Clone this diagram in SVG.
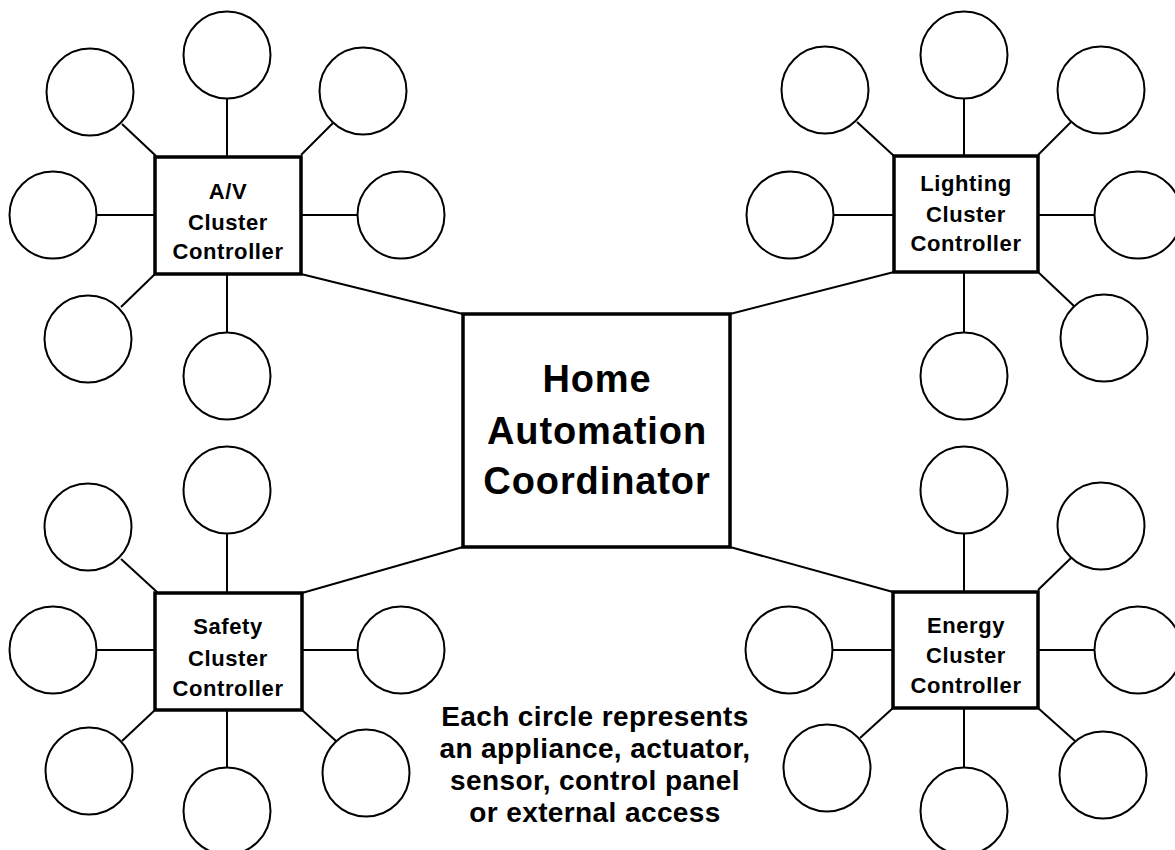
<svg xmlns="http://www.w3.org/2000/svg" width="1175" height="850" viewBox="0 0 1175 850">
<style>
.c{fill:#fff;stroke:#000;stroke-width:2}
.b{fill:#fff;stroke:#000;stroke-width:3.5}
.l{stroke:#000;stroke-width:2;fill:none}
.t{font-family:"Liberation Sans",Arial,Helvetica,sans-serif;font-weight:bold;text-anchor:middle;fill:#000}
.s{font-size:22px;letter-spacing:0.6px}
.m{font-size:38px;letter-spacing:0.9px}
.n{font-size:28px;letter-spacing:0.4px}
</style>
<rect width="1175" height="850" fill="#fff"/>
<g id="connectors" class="l">
<line x1="301" y1="274" x2="463" y2="314"/>
<line x1="894" y1="272" x2="730" y2="314"/>
<line x1="302" y1="593" x2="463" y2="547"/>
<line x1="893" y1="592" x2="730" y2="547"/>
<!-- A/V spokes -->
<line x1="227" y1="99" x2="227" y2="157"/>
<line x1="122" y1="124" x2="156" y2="156"/>
<line x1="334" y1="122" x2="301" y2="155"/>
<line x1="97" y1="215" x2="155" y2="215"/>
<line x1="301" y1="215" x2="357" y2="215"/>
<line x1="155" y1="274" x2="121" y2="307"/>
<line x1="227" y1="274" x2="227" y2="332"/>
<!-- Lighting spokes -->
<line x1="964" y1="99" x2="964" y2="156"/>
<line x1="857" y1="122" x2="894" y2="156"/>
<line x1="1071" y1="122" x2="1038" y2="155"/>
<line x1="834" y1="215" x2="894" y2="215"/>
<line x1="1038" y1="215" x2="1094" y2="215"/>
<line x1="1038" y1="272" x2="1074" y2="306"/>
<line x1="964" y1="272" x2="964" y2="332"/>
<!-- Safety spokes -->
<line x1="227" y1="533" x2="227" y2="593"/>
<line x1="121" y1="559" x2="157" y2="592"/>
<line x1="97" y1="650" x2="155" y2="650"/>
<line x1="302" y1="650" x2="357" y2="650"/>
<line x1="155" y1="710" x2="122" y2="741"/>
<line x1="227" y1="710" x2="227" y2="767"/>
<line x1="302" y1="710" x2="336" y2="741"/>
<!-- Energy spokes -->
<line x1="964" y1="534" x2="964" y2="592"/>
<line x1="1071" y1="558" x2="1038" y2="590"/>
<line x1="833" y1="650" x2="893" y2="650"/>
<line x1="1038" y1="650" x2="1094" y2="650"/>
<line x1="893" y1="708" x2="860" y2="738"/>
<line x1="964" y1="708" x2="964" y2="767"/>
<line x1="1038" y1="708" x2="1075" y2="741"/>
</g>
<g id="coordinator">
<rect class="b" x="463" y="314" width="267" height="233"/>
<text class="t m" x="597" y="392">Home</text>
<text class="t m" x="597" y="444">Automation</text>
<text class="t m" x="597" y="494">Coordinator</text>
</g>
<g id="av-controller">
<rect class="b" x="155" y="157" width="146" height="117"/>
<text class="t s" x="228" y="199">A/V</text>
<text class="t s" x="228" y="230">Cluster</text>
<text class="t s" x="228" y="259">Controller</text>
</g>
<g id="av-devices">
<circle class="c" cx="227" cy="55" r="43.5"/>
<circle class="c" cx="90" cy="92" r="43.5"/>
<circle class="c" cx="363" cy="91" r="43.5"/>
<circle class="c" cx="53" cy="215" r="43.5"/>
<circle class="c" cx="401" cy="215" r="43.5"/>
<circle class="c" cx="88" cy="339" r="43.5"/>
<circle class="c" cx="227" cy="376" r="43.5"/>
</g>
<g id="lighting-controller">
<rect class="b" x="894" y="156" width="144" height="116"/>
<text class="t s" x="966" y="191">Lighting</text>
<text class="t s" x="966" y="222">Cluster</text>
<text class="t s" x="966" y="251">Controller</text>
</g>
<g id="lighting-devices">
<circle class="c" cx="964" cy="55" r="43.5"/>
<circle class="c" cx="825" cy="90" r="43.5"/>
<circle class="c" cx="1101" cy="90" r="43.5"/>
<circle class="c" cx="790" cy="215" r="43.5"/>
<circle class="c" cx="1138" cy="215" r="43.5"/>
<circle class="c" cx="1104" cy="338" r="43.5"/>
<circle class="c" cx="964" cy="376" r="43.5"/>
</g>
<g id="safety-controller">
<rect class="b" x="155" y="593" width="147" height="117"/>
<text class="t s" x="228" y="634">Safety</text>
<text class="t s" x="228" y="666">Cluster</text>
<text class="t s" x="228" y="696">Controller</text>
</g>
<g id="safety-devices">
<circle class="c" cx="227" cy="490" r="43.5"/>
<circle class="c" cx="88" cy="527" r="43.5"/>
<circle class="c" cx="53" cy="650" r="43.5"/>
<circle class="c" cx="401" cy="650" r="43.5"/>
<circle class="c" cx="89" cy="771" r="43.5"/>
<circle class="c" cx="227" cy="811" r="43.5"/>
<circle class="c" cx="366" cy="773" r="43.5"/>
</g>
<g id="energy-controller">
<rect class="b" x="893" y="592" width="145" height="116"/>
<text class="t s" x="966" y="633">Energy</text>
<text class="t s" x="966" y="663">Cluster</text>
<text class="t s" x="966" y="693">Controller</text>
</g>
<g id="energy-devices">
<circle class="c" cx="964" cy="490" r="43.5"/>
<circle class="c" cx="1101" cy="526" r="43.5"/>
<circle class="c" cx="789" cy="650" r="43.5"/>
<circle class="c" cx="1138" cy="650" r="43.5"/>
<circle class="c" cx="827" cy="768" r="43.5"/>
<circle class="c" cx="964" cy="811" r="43.5"/>
<circle class="c" cx="1103" cy="775" r="43.5"/>
</g>
<g id="note">
<text class="t n" x="595" y="726">Each circle represents</text>
<text class="t n" x="595" y="758">an appliance, actuator,</text>
<text class="t n" x="595" y="790">sensor, control panel</text>
<text class="t n" x="595" y="822">or external access</text>
</g>
</svg>
